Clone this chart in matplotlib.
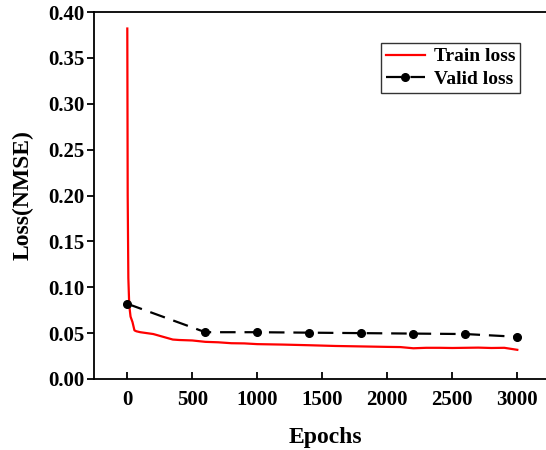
"""
Train / valid loss curves over epochs
"""
import numpy as np
import matplotlib.pyplot as plt

#Data
train_epochs = [0, 3, 8, 15, 25, 40, 55, 70, 100, 150, 200, 250, 300, 350, 400, 500, 600,
                700, 800, 900, 1000, 1200, 1400, 1600, 1800, 2000, 2100, 2200, 2300,
                2400, 2500, 2600, 2700, 2800, 2900, 3000]
train_loss = [0.382, 0.200, 0.110, 0.080, 0.068, 0.062, 0.053, 0.052, 0.051, 0.050,
              0.049, 0.047, 0.045, 0.043, 0.0425, 0.042, 0.0405,
              0.040, 0.039, 0.0388, 0.038, 0.0375, 0.0368, 0.036, 0.0355, 0.035, 0.0348,
              0.0335, 0.034, 0.034, 0.0338, 0.034, 0.0342, 0.0338, 0.034, 0.0318]
valid_epochs = [0, 600, 1000, 1400, 1800, 2200, 2600, 3000]
valid_loss = [0.082, 0.051, 0.051, 0.0505, 0.050, 0.0495, 0.049, 0.046]

plt.rcParams['font.family'] = 'Liberation Serif'
plt.rcParams['font.weight'] = 'bold'

fig = plt.figure(figsize=(5.46, 4.5), dpi=100)
W, H = 546, 450
#axes box in pixels; right edge runs past the picture
left, right, top, bottom = 94, 556, 12, 379
ax = fig.add_axes([left / W, (H - bottom) / H, (right - left) / W, (bottom - top) / H])

ax.plot(train_epochs, train_loss, color='red', lw=1.6, label='Train loss')
ax.plot(valid_epochs, valid_loss, color='black', lw=1.6, ls=(0, (7, 4)),
        marker='o', ms=5.5, label='Valid loss')

#0 at x=127.3 px, 3000 at x=517.3 px
px = 390 / 3000
ax.set_xlim((left - 127.3) / px, (right - 127.3) / px)
ax.set_ylim(0, 0.40)
ax.set_xticks(np.arange(0, 3001, 500))
ax.set_yticks(np.arange(0, 0.401, 0.05))
ax.yaxis.set_major_formatter(plt.FormatStrFormatter('%.2f'))

ax.tick_params(axis='x', direction='in', length=5, width=1.3, labelsize=15, pad=8)
ax.tick_params(axis='y', direction='out', length=5, width=1.3, labelsize=15, pad=2)
for s in ax.spines.values():
	s.set_linewidth(1.3)

ax.set_xlabel('Epochs', fontsize=17, fontweight='bold', labelpad=12)
ax.set_ylabel('Loss(NMSE)', fontsize=17, fontweight='bold', labelpad=10)

leg = ax.legend(loc='upper left', bbox_to_anchor=((381 - left) / (right - left), 1 - (43 - top) / (bottom - top)),
                fontsize=14, frameon=True, fancybox=False, edgecolor='black',
                handlelength=2.0, borderpad=0.25, labelspacing=0.25, borderaxespad=0,
                handletextpad=0.45)
leg.get_frame().set_linewidth(1.0)

plt.savefig('out.png', dpi=100)
